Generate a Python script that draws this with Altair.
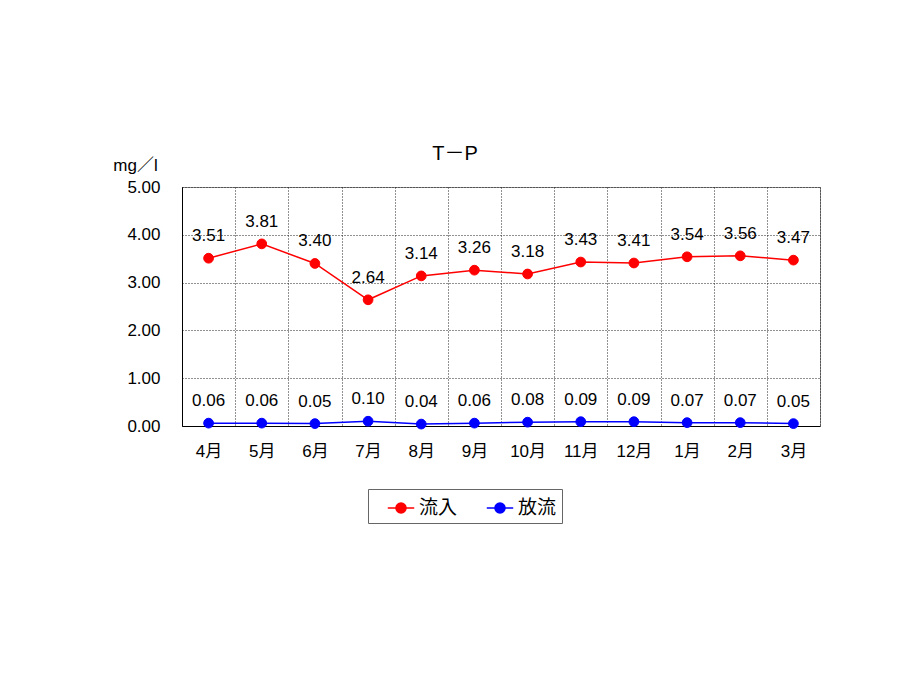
import altair as alt
import pandas as pd

# monthly T-P values (mg/l)
months = ["4月", "5月", "6月", "7月", "8月", "9月", "10月", "11月", "12月", "1月", "2月", "3月"]
inflow = [3.51, 3.81, 3.40, 2.64, 3.14, 3.26, 3.18, 3.43, 3.41, 3.54, 3.56, 3.47]
outflow = [0.06, 0.06, 0.05, 0.10, 0.04, 0.06, 0.08, 0.09, 0.09, 0.07, 0.07, 0.05]
series_names = ["流入", "放流"]
series_colors = ["#ff0000", "#0000ff"]

df = pd.concat([
    pd.DataFrame({"month": months, "value": inflow, "series": series_names[0]}),
    pd.DataFrame({"month": months, "value": outflow, "series": series_names[1]}),
])

FONT = "Liberation Sans, Noto Sans CJK JP"

legend = alt.Legend(
    title=None, orient="none", legendX=186, legendY=302, direction="horizontal",
    strokeColor="#666", fillColor="white", padding=5, columnPadding=14,
    symbolOffset=14, labelExpr="datum.label + '  '",
    labelFont=FONT, labelFontSize=19, labelColor="black", labelOffset=4,
    symbolType="M-1,0H1M-0.38,0A0.38,0.38,0,1,1,0.38,0A0.38,0.38,0,1,1,-0.38,0Z",
    symbolSize=700, symbolStrokeWidth=1.5,
)
scale = alt.Scale(domain=series_names, range=series_colors)

base = alt.Chart(df).encode(
    x=alt.X("month:N", sort=months, bandPosition=0.5, title=None,
            scale=alt.Scale(type="band", paddingInner=0, paddingOuter=0),
            axis=alt.Axis(tickBand="extent", grid=True, gridDash=[1, 2], gridColor="#222",
                          ticks=False, labelPadding=17, labelAngle=0, labelFont=FONT,
                          labelFontSize=17, labelColor="black", domainColor="black")),
    y=alt.Y("value:Q", scale=alt.Scale(domain=[0, 5]),
            axis=alt.Axis(values=[0, 1, 2, 3, 4, 5], format=".2f", grid=True, gridDash=[1, 2],
                          gridColor="#222", ticks=False, labelPadding=22, labelFont=FONT,
                          labelFontSize=17, labelColor="black", domainColor="black",
                          title="mg／l", titleAngle=0, titleX=-47, titleY=-22,
                          titleAlign="center", titleBaseline="middle", titleFont=FONT,
                          titleFontSize=17, titleFontWeight="normal", titleColor="black")),
)

lines = base.mark_line(strokeWidth=1.5).encode(
    stroke=alt.Stroke("series:N", sort=series_names, scale=scale, legend=legend)
)
points = base.mark_point(shape="circle", size=95, opacity=1, strokeWidth=1).encode(
    stroke=alt.Stroke("series:N", sort=series_names, scale=scale, legend=legend),
    fill=alt.Fill("series:N", sort=series_names, scale=scale, legend=legend),
)
labels = base.mark_text(dy=-22, font=FONT, fontSize=17, color="black").encode(
    text=alt.Text("value:Q", format=".2f")
)

chart = (
    alt.layer(lines, points, labels)
    .properties(
        width=638, height=239,
        padding={"left": 174, "top": 179, "right": 85, "bottom": 240},
        autosize=alt.AutoSizeParams(type="none"),
        title=alt.TitleParams("T－P", frame="group", anchor="middle", dx=-46, offset=-8,
                              font=FONT, fontSize=20, fontWeight="normal", color="black"),
    )
    .configure_view(stroke="#888", strokeWidth=1)
)

chart.save("out.html", embed_options={"renderer": "svg", "actions": False})
